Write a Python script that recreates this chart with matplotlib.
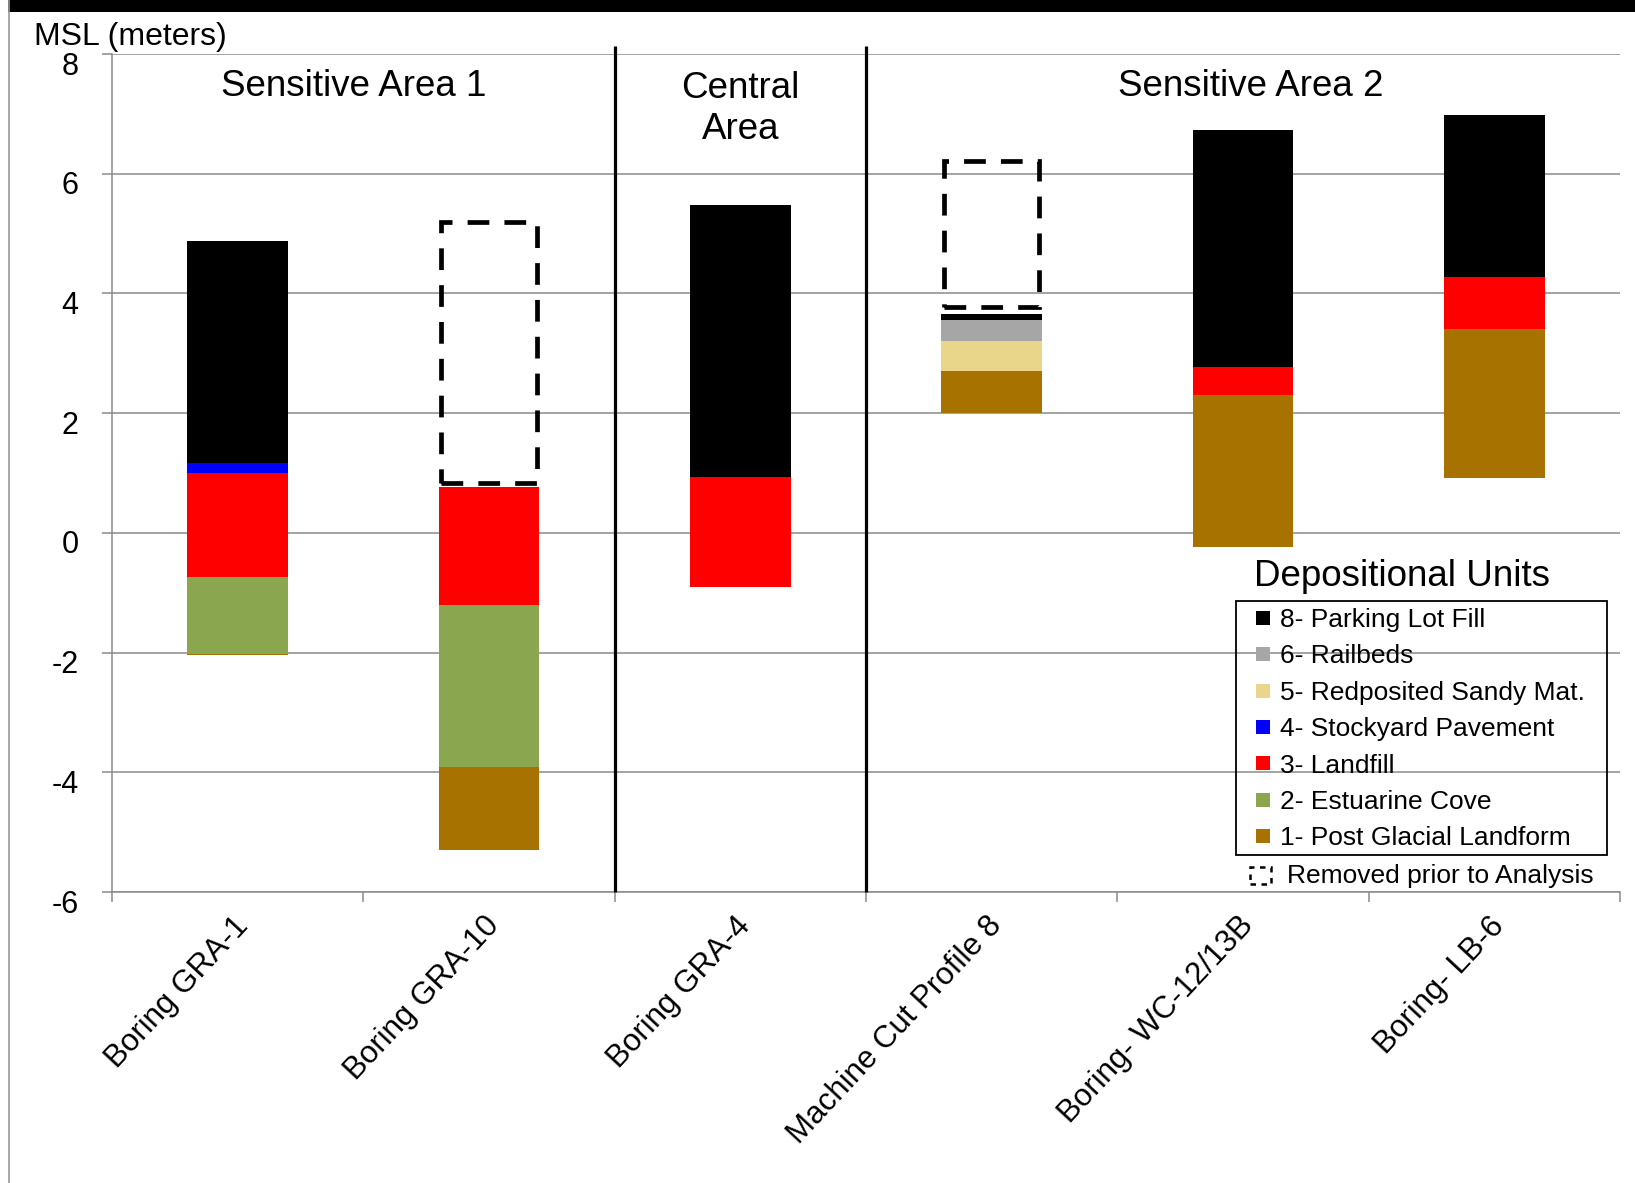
import numpy as np
import matplotlib
matplotlib.use("Agg")
import matplotlib.pyplot as plt
from matplotlib.lines import Line2D
from matplotlib.patches import Rectangle
import matplotlib.transforms as mtransforms

plt.rcParams['font.family'] = ['Liberation Sans', 'DejaVu Sans']

# ---- data -----------------------------------------------------------------
borings = ["Boring GRA-1", "Boring GRA-10", "Boring GRA-4",
           "Machine Cut Profile 8", "Boring- WC-12/13B", "Boring- LB-6"]

# elevation (m MSL) of the base of each profile
base_elev = [-2.04, -5.29, -0.90, 2.00, -0.23, 0.91]

# unit thicknesses (m), listed from the bottom of the profile upward
post_glacial = [0.02, 1.37, 0.00, 0.71, 2.53, 2.49]
estuarine    = [1.28, 2.72, 0.00, 0.00, 0.00, 0.00]
landfill     = [1.74, 1.97, 1.84, 0.00, 0.47, 0.88]
stockyard    = [0.17, 0.00, 0.00, 0.00, 0.00, 0.00]
sandy        = [0.00, 0.00, 0.00, 0.50, 0.00, 0.00]
railbeds     = [0.00, 0.00, 0.00, 0.34, 0.00, 0.00]
parking      = [3.71, 0.00, 4.53, 0.10, 3.96, 2.70]

unit_labels = ["1- Post Glacial Landform", "2- Estuarine Cove", "3- Landfill",
               "4- Stockyard Pavement", "5- Redposited Sandy Mat.",
               "6- Railbeds", "8- Parking Lot Fill"]
unit_colors = ["#a87200", "#8aa64e", "#ff0000", "#0000ff",
               "#e9d68a", "#a6a6a6", "#000000"]

# material removed before analysis (m MSL)
removed_bottom = [np.nan, 0.84, np.nan, 3.78, np.nan, np.nan]
removed_top    = [np.nan, 5.19, np.nan, 6.22, np.nan, np.nan]

areas = ["Sensitive Area 1", "Central\nArea", "Sensitive Area 2"]
area_x = [0.46, 2.0, 4.03]
area_y = [7.45, 7.08, 7.45]

yticks = [-6, -4, -2, 0, 2, 4, 6, 8]

# ---- figure ---------------------------------------------------------------
W, H = 1635, 1183
fig = plt.figure(figsize=(W / 100, H / 100), dpi=100)
ax = fig.add_axes([112 / W, 1 - 892 / H, (1620 - 112) / W, (892 - 54) / H])

def fpx(x, y):
    """pixel position (from top-left) -> figure fraction"""
    return x / W, 1 - y / H

grid_c = "#8a8a8a"
x = np.arange(len(borings))
layers = [post_glacial, estuarine, landfill, stockyard, sandy, railbeds, parking]
bottom = np.array(base_elev, dtype=float)
for vals, col in zip(layers, unit_colors):
    vals = np.array(vals, dtype=float)
    ax.bar(x, vals, width=0.4, bottom=bottom, color=col, linewidth=0, zorder=3)
    bottom = bottom + vals

rb = np.array(removed_bottom)
rt = np.array(removed_top)
m = ~np.isnan(rb)
ax.bar(x[m], rt[m] - rb[m], bottom=rb[m], width=0.38, fill=False,
       edgecolor="black", linewidth=3.4, linestyle=(0, (4.6, 3.2)), zorder=4)

ax.vlines([1.5, 2.5], -6, 8.13, colors="black", linewidth=2.3, zorder=5,
          clip_on=False)

for t, xx, yy in zip(areas, area_x, area_y):
    ax.text(xx, yy, t, ha="center", va="center", fontsize=26.5,
            linespacing=1.22, zorder=6)

ax.set_xlim(-0.5, len(borings) - 0.5)
ax.set_ylim(-6, 8)
ax.set_yticks(yticks)
ax.set_yticklabels([str(v) for v in yticks])
ax.yaxis.grid(True, color=grid_c, linewidth=1.1)
ax.set_axisbelow(True)
for s in ["top", "right"]:
    ax.spines[s].set_visible(False)
for s in ["left", "bottom"]:
    ax.spines[s].set_color(grid_c)
    ax.spines[s].set_linewidth(1.1)

ax.tick_params(axis="y", which="major", length=7, width=1.1, color=grid_c,
               labelsize=22, pad=17)
ax.set_xticks(np.arange(-0.5, len(borings)), minor=False)
ax.set_xticklabels([])
ax.set_xticks(x, minor=True)
ax.set_xticklabels(borings, minor=True, rotation=47, ha="right", va="center",
                   rotation_mode="anchor", fontsize=22.5)
ax.tick_params(axis="x", which="major", length=7, width=1.1, color=grid_c)
ax.tick_params(axis="x", which="minor", length=0, pad=21)

off_y = mtransforms.ScaledTranslation(0, -6.5 / 72, fig.dpi_scale_trans)
for lab in ax.get_yticklabels():
    lab.set_transform(lab.get_transform() + off_y)
off_x = mtransforms.ScaledTranslation(4 / 72, 0, fig.dpi_scale_trans)
for lab in ax.get_xticklabels(minor=True):
    lab.set_transform(lab.get_transform() + off_x)

fig.text(*fpx(34, 37), "MSL (meters)", ha="left", va="center", fontsize=23)

# ---- legend ---------------------------------------------------------------
handles = [Line2D([], [], marker="s", linestyle="none", color=c,
                  markersize=9.5, markeredgewidth=0)
           for c in unit_colors[::-1]]
leg = fig.legend(handles, unit_labels[::-1], loc="upper left",
                 bbox_to_anchor=fpx(1252, 608), bbox_transform=fig.transFigure,
                 frameon=False, fontsize=19, handlelength=0.8,
                 handletextpad=0.25, labelspacing=0.47, borderpad=0,
                 borderaxespad=0)
x0, y0 = fpx(1236, 855)
x1, y1 = fpx(1607, 601)
fig.add_artist(Rectangle((x0, y0), x1 - x0, y1 - y0, transform=fig.transFigure,
                         fill=False, edgecolor="black", linewidth=1.3))
fig.text(*fpx(1402, 576), "Depositional Units", ha="center", va="center",
         fontsize=26.5)
ix0, iy0 = fpx(1250, 884)
ix1, iy1 = fpx(1271, 867)
fig.add_artist(Rectangle((ix0, iy0), ix1 - ix0, iy1 - iy0,
                         transform=fig.transFigure, fill=False,
                         edgecolor="black", linewidth=1.8,
                         linestyle=(0, (2.2, 2.2))))
fig.text(*fpx(1287, 876), "Removed prior to Analysis", ha="left",
         va="center", fontsize=19)

# ---- page frame -----------------------------------------------------------
bx, by = fpx(8, 12)
fig.add_artist(Rectangle((bx, by), 1 - bx, 1 - by, transform=fig.transFigure,
                         color="black", linewidth=0))
fig.add_artist(Line2D([9 / W, 9 / W], [0, 1], transform=fig.transFigure,
                      color="#9a9a9a", linewidth=1.2))

fig.savefig("out.png", dpi=100, facecolor="white")
